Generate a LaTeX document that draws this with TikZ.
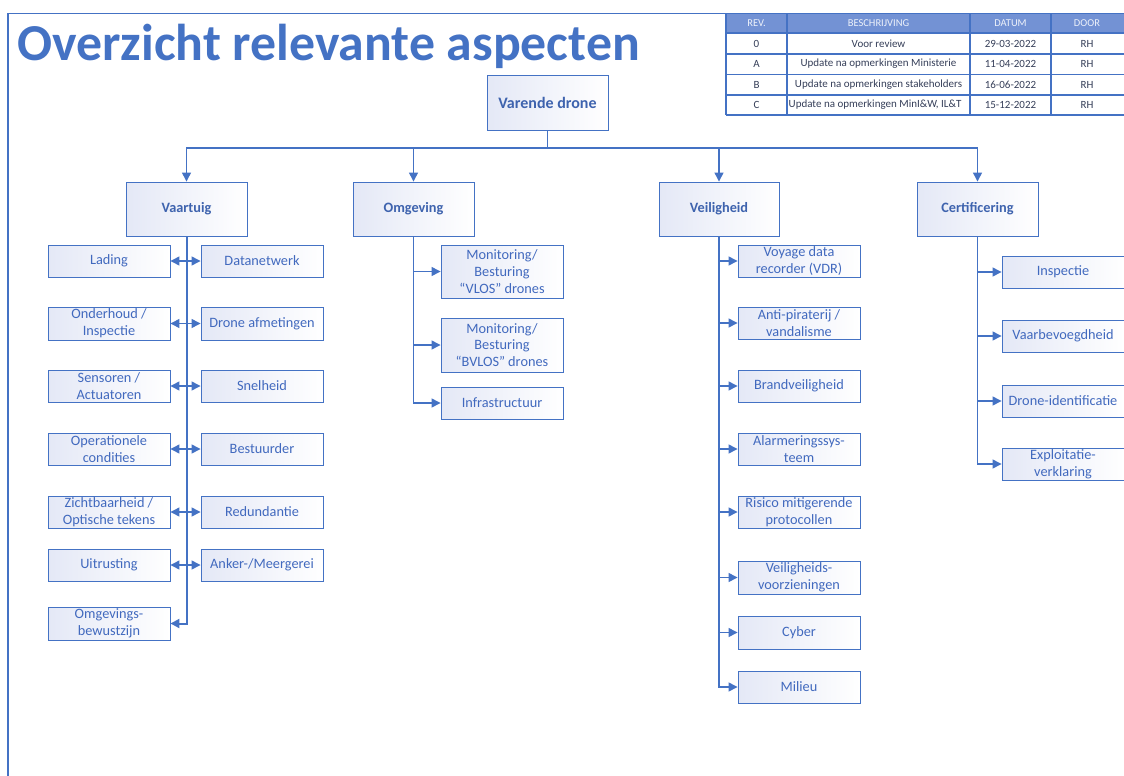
\documentclass[tikz,border=0pt]{standalone}
\usepackage{fontspec}
\setmainfont{Carlito}
\usetikzlibrary{arrows.meta}
\definecolor{bl}{HTML}{4472C4}
\definecolor{boxfill}{HTML}{E4E8F6}
\definecolor{itemtxt}{HTML}{4169BE}
\definecolor{headtxt}{HTML}{3E63AE}
\definecolor{hdr}{HTML}{7392D4}
\definecolor{hdrtxt}{HTML}{EEF2FA}
\definecolor{tabtxt}{HTML}{353E58}
\begin{document}
\begin{tikzpicture}[x=1pt,y=-1pt,
  box/.style={draw=bl, line width=0.9pt, left color=boxfill, right color=white, inner sep=0pt, align=center, text=itemtxt, font=\fontsize{14.3}{16.8}\selectfont},
  head/.style={box, font=\bfseries\fontsize{14.3}{16.8}\selectfont, text=headtxt, minimum width=121, minimum height=54},
  item/.style={box, minimum width=122, minimum height=32},
  conn/.style={draw=bl, line width=1.3pt, -{Triangle[length=9pt,width=9pt]}},
  dconn/.style={draw=bl, line width=1.3pt, {Triangle[length=9pt,width=9pt]}-{Triangle[length=9pt,width=9pt]}},
  hcell/.style={inner sep=0pt, text=hdrtxt, font=\fontsize{10.5}{12}\selectfont},
  tcell/.style={inner sep=0pt, text=tabtxt, font=\fontsize{11}{12}\selectfont},
]
\useasboundingbox (0,0) rectangle (1124,776);
% frame
\draw[bl, line width=1.3pt] (8,776) -- (8,13.5) -- (1124,13.5);
% title
\node[anchor=base west, inner sep=0pt, text=bl, font=\bfseries\fontsize{51.8}{60}\selectfont] (title) at (17,60) {Overzicht relevante aspecten};
% table
\begin{scope}
\clip (720,0) rectangle (1124,120);
\fill[hdr] (726,13.5) rectangle (1130,33);
\foreach \yy in {13.5,33,54,74.5,95,115} \draw[bl, line width=1.3pt] (726,\yy) -- (1130,\yy);
\foreach \xx in {726,787,970,1051} \draw[bl, line width=1.3pt] (\xx,13.5) -- (\xx,115);
\node[hcell] (h1) at (756.5,23.5) {REV.};
\node[hcell] (h2) at (878.5,23.5) {BESCHRIJVING};
\node[hcell] (h3) at (1010.5,23.5) {DATUM};
\node[hcell] (h4) at (1087,23.5) {DOOR};
\node[tcell] (r01) at (756.5,43.5) {0};
\node[tcell] (r02) at (878.5,43.5) {Voor review};
\node[tcell] (r03) at (1010.5,43.5) {29-03-2022};
\node[tcell] (r04) at (1087,43.5) {RH};
\node[tcell] (r11) at (756.5,64) {A};
\node[tcell] (r12) at (878.5,64) {Update na opmerkingen Ministerie};
\node[tcell] (r13) at (1010.5,64) {11-04-2022};
\node[tcell] (r14) at (1087,64) {RH};
\node[tcell] (r21) at (756.5,84.5) {B};
\node[tcell] (r22) at (878.5,84.5) {Update na opmerkingen stakeholders};
\node[tcell] (r23) at (1010.5,84.5) {16-06-2022};
\node[tcell] (r24) at (1087,84.5) {RH};
\node[tcell] (r31) at (756.5,105) {C};
\node[tcell] (r33) at (1010.5,105) {15-12-2022};
\node[tcell] (r34) at (1087,105) {RH};
\end{scope}
\begin{scope}
\clip (788,95) rectangle (969,115);
\node[tcell, anchor=west] (r32) at (788.5,105) {Update na opmerkingen MinI\&W, IL\&T};
\end{scope}
% root and heads
\node[head, minimum height=55, font=\bfseries\fontsize{16}{19}\selectfont] (root) at (547.5,102.5) {Varende drone};
\node[head] (vaart) at (186.5,209) {Vaartuig};
\node[head] (omg) at (413.5,209) {Omgeving};
\node[head, minimum width=120] (veil) at (719,209) {Veiligheid};
\node[head] (cert) at (977.5,209) {Certificering};
\coordinate (bus) at (547.5,148);
\draw[conn] (root.south) -- (bus) -| (vaart.north);
\draw[conn] (bus) -| (omg.north);
\draw[conn] (bus) -| (veil.north);
\draw[conn] (bus) -| (cert.north);
% Vaartuig items
\node[item] (lading) at (109,261) {Lading};
\node[item] (datanet) at (262,261) {Datanetwerk};
\node[item, minimum height=33] (onderh) at (109,323.5) {Onderhoud /\\Inspectie};
\node[item, minimum height=33] (afmet) at (262,323.5) {Drone afmetingen};
\node[item] (sensor) at (109,386) {Sensoren /\\Actuatoren};
\node[item] (snel) at (262,386) {Snelheid};
\node[item] (operat) at (109,449) {Operationele\\condities};
\node[item] (bestuur) at (262,449) {Bestuurder};
\node[item] (zicht) at (109,512) {Zichtbaarheid /\\Optische tekens};
\node[item] (redund) at (262,512) {Redundantie};
\node[item] (uitrust) at (109,565) {Uitrusting};
\node[item] (anker) at (262,565) {Anker-/Meergerei};
\node[item, minimum height=33] (omgbew) at (109,623.5) {Omgevings-\\bewustzijn};
\draw[conn, line width=2pt] (vaart.south) |- (omgbew.east);
\draw[dconn] (lading.east) -- (datanet.west);
\draw[dconn] (onderh.east) -- (afmet.west);
\draw[dconn] (sensor.east) -- (snel.west);
\draw[dconn] (operat.east) -- (bestuur.west);
\draw[dconn] (zicht.east) -- (redund.west);
\draw[dconn] (uitrust.east) -- (anker.west);
% Omgeving items
\node[item, minimum height=53] (vlos) at (502,271.5) {Monitoring/\\Besturing\\“VLOS” drones};
\node[item, minimum height=54] (bvlos) at (502,345) {Monitoring/\\Besturing\\“BVLOS” drones};
\node[item] (infra) at (502,403) {Infrastructuur};
\draw[conn] (omg.south) |- (vlos.west);
\draw[conn] (omg.south) |- (bvlos.west);
\draw[conn] (omg.south) |- (infra.west);
% Veiligheid items
\node[item] (vdr) at (799,261) {Voyage data\\recorder (VDR)};
\node[item] (anti) at (799,323) {Anti-piraterij /\\vandalisme};
\node[item] (brand) at (799,386) {Brandveiligheid};
\node[item] (alarm) at (799,449) {Alarmeringssys-\\teem};
\node[item] (risico) at (799,512) {Risico mitigerende\\protocollen};
\node[item, minimum height=33] (vzien) at (799,577.5) {Veiligheids-\\voorzieningen};
\node[item, minimum height=33] (cyber) at (799,632.5) {Cyber};
\node[item] (milieu) at (799,687) {Milieu};
\foreach \n in {vdr,anti,brand,alarm,risico,vzien,cyber,milieu}
  \draw[conn] (veil.south) |- (\n.west);
% Certificering items
\node[item] (insp) at (1063,272) {Inspectie};
\node[item] (vaarb) at (1063,336) {Vaarbevoegdheid};
\node[item] (dident) at (1063,401) {Drone-identificatie};
\node[item] (exploit) at (1063,464) {Exploitatie-\\verklaring};
\foreach \n in {insp,vaarb,dident,exploit}
  \draw[conn] (cert.south) |- (\n.west);
\end{tikzpicture}
\end{document}
